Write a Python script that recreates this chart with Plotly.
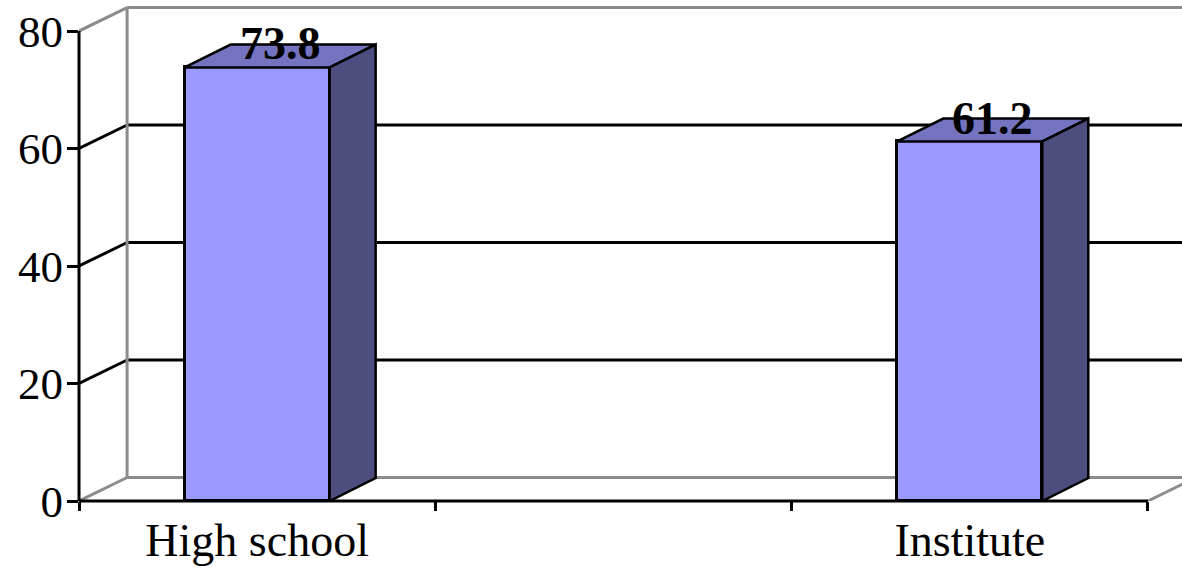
import plotly.graph_objects as go

# Chart data
categories = ["High school", " ", "Institute"]
values = [73.8, None, 61.2]
y_ticks = [0, 20, 40, 60, 80]

# Pseudo-3D geometry (in axis units)
BAR_WIDTH = 0.407
WALL_DX = 0.135      # depth offset of the back wall along x
WALL_DY = 4.0        # depth offset of the back wall along y
BAR_DX = 0.129       # depth of each bar along x
BAR_DY = 3.9         # depth of each bar along y
X_MIN, X_MAX = -0.5, 2.5955
Y_MIN, Y_MAX = 0, 84.26

FRONT = "#9999FF"
TOP = "#7373C0"
SIDE = "#4D4D80"
GRAY = "#8C8C8C"
FONT = "Liberation Serif"

positions = list(range(len(categories)))
ymax_tick = y_ticks[-1]

fig = go.Figure()

# Front faces of the bars
fig.add_trace(go.Bar(
    x=categories, y=values, width=BAR_WIDTH,
    marker=dict(color=FRONT, line=dict(color="black", width=3)),
    hoverinfo="skip", showlegend=False,
))

# Top and side faces of each bar
for p, v in zip(positions, values):
    if v is None:
        continue
    l, r = p - BAR_WIDTH / 2, p + BAR_WIDTH / 2
    fig.add_trace(go.Scatter(
        x=[l, r, r + BAR_DX, l + BAR_DX, l],
        y=[v, v, v + BAR_DY, v + BAR_DY, v],
        fill="toself", fillcolor=TOP, mode="lines",
        line=dict(color="black", width=2.5),
        xaxis="x2", yaxis="y", hoverinfo="skip", showlegend=False,
    ))
    fig.add_trace(go.Scatter(
        x=[r, r, r + BAR_DX, r + BAR_DX, r],
        y=[0, v, v + BAR_DY, BAR_DY, 0],
        fill="toself", fillcolor=SIDE, mode="lines",
        line=dict(color="black", width=2.5),
        xaxis="x2", yaxis="y", hoverinfo="skip", showlegend=False,
    ))

shapes = []
back_left = X_MIN + WALL_DX
# Back wall gridlines and the connectors to the front axis
for t in y_ticks:
    edge = t in (y_ticks[0], y_ticks[-1])
    color = GRAY if edge else "black"
    shapes.append(dict(type="line", xref="x2", yref="y", layer="below",
                       x0=back_left, x1=X_MAX, y0=t + WALL_DY, y1=t + WALL_DY,
                       line=dict(color=color, width=3)))
    shapes.append(dict(type="line", xref="x2", yref="y", layer="below",
                       x0=X_MIN, x1=back_left, y0=t, y1=t + WALL_DY,
                       line=dict(color=color, width=3)))
# Back wall left edge
shapes.append(dict(type="line", xref="x2", yref="y", layer="below",
                   x0=back_left, x1=back_left, y0=WALL_DY, y1=ymax_tick + WALL_DY,
                   line=dict(color=GRAY, width=3)))
# Floor edge on the right
shapes.append(dict(type="line", xref="x2", yref="y", layer="below",
                   x0=positions[-1] + 0.5, x1=positions[-1] + 0.5 + WALL_DX,
                   y0=0, y1=WALL_DY, line=dict(color=GRAY, width=3)))
# Front value axis line
shapes.append(dict(type="line", xref="paper", yref="y",
                   x0=0, x1=0, y0=0, y1=ymax_tick,
                   line=dict(color="black", width=3)))
# Front category axis line
shapes.append(dict(type="line", xref="x2", yref="paper",
                   x0=X_MIN, x1=positions[-1] + 0.5, y0=0, y1=0,
                   line=dict(color="black", width=3)))

# Value labels above the bars
annotations = []
for p, v in zip(positions, values):
    if v is None:
        continue
    annotations.append(dict(
        x=p + BAR_DX / 2, y=v + BAR_DY / 2, xref="x2", yref="y",
        text=f"<b>{v}</b>", showarrow=False, yanchor="middle", yshift=12,
        font=dict(family=FONT, size=46, color="black"),
    ))

fig.update_layout(
    template="none",
    width=1182, height=571,
    margin=dict(l=79, r=0, t=6, b=70),
    paper_bgcolor="white", plot_bgcolor="white",
    showlegend=False,
    bargap=0,
    shapes=shapes,
    annotations=annotations,
    xaxis=dict(
        type="category", categoryorder="array", categoryarray=categories,
        range=[X_MIN, X_MAX], tickson="boundaries",
        ticks="outside", ticklen=9, tickwidth=3, tickcolor="black",
        showline=False, showgrid=False, zeroline=False, automargin=False,
        tickfont=dict(family=FONT, size=46, color="black"),
        ticklabelstandoff=8,
    ),
    xaxis2=dict(
        overlaying="x", range=[X_MIN, X_MAX], visible=False,
        showgrid=False, zeroline=False,
    ),
    yaxis=dict(
        range=[Y_MIN, Y_MAX], tickvals=y_ticks,
        ticks="outside", ticklen=11, tickwidth=3, tickcolor="black",
        showline=False, showgrid=False, zeroline=False, automargin=False,
        tickfont=dict(family=FONT, size=45, color="black"),
        ticklabelstandoff=-5,
    ),
)

fig.write_html("out.html")
